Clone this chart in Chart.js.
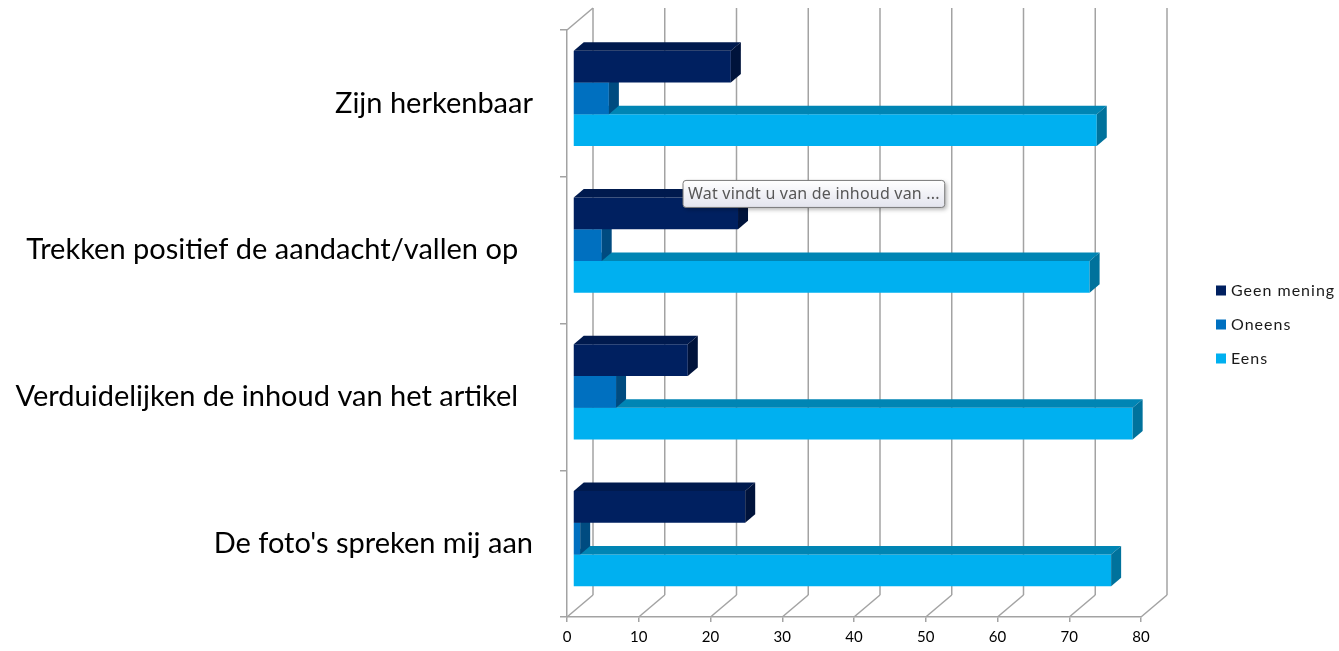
<!DOCTYPE html>
<html>
<head>
<meta charset="utf-8">
<script src="https://cdn.jsdelivr.net/npm/chart.js@4/dist/chart.umd.min.js"></script>
<style>
  html, body { margin: 0; padding: 0; background: #ffffff; }
  #wrap { width: 1339px; height: 651px; }
</style>
</head>
<body>
<div id="wrap"><canvas id="chart"></canvas></div>
<script>
// DATA

const categories = [
  'Zijn herkenbaar',
  'Trekken positief de aandacht/vallen op  ',
  'Verduidelijken de inhoud van het artikel  ',
  "De foto's spreken mij aan"
];
const seriesNames = ['Geen mening', 'Oneens', 'Eens'];
const geenMening = [22, 23, 16, 24];
const oneens = [5, 4, 6, 1];
const eens = [73, 72, 78, 75];
const xMin = 0, xMax = 80, xStep = 10;
const tooltipText = 'Wat vindt u van de inhoud van ...';

// STYLE

const frontColors = ['#002060', '#0070c0', '#00b0f0'];
const topColors = ['#001a4e', '#005a9c', '#0085b4'];
const sideColors = ['#00133b', '#004b80', '#00729c'];
const GRID = '#a3a3a3';
const LABEL_FONT = 'Lato';

// 3D offsets in pixels (x right, y down)
const BAR_SHIFT = [6, -5];
const BAR_DEPTH = [10, -8.5];
const WALL_DEPTH = [26, -22];

//==================================
// 3D PLUGIN
//==================================

function line(ctx, x1, y1, x2, y2) {
  ctx.beginPath();
  ctx.moveTo(x1, y1);
  ctx.lineTo(x2, y2);
  ctx.stroke();
}

function poly(ctx, pts, color) {
  ctx.beginPath();
  ctx.moveTo(pts[0][0], pts[0][1]);
  for (let i = 1; i < pts.length; i++) ctx.lineTo(pts[i][0], pts[i][1]);
  ctx.closePath();
  ctx.fillStyle = color;
  ctx.fill();
}

const threeD = {
  id: 'threeD',
  beforeDatasetsDraw(chart) {
    const ctx = chart.ctx;
    const area = chart.chartArea;
    const xs = chart.scales.x;
    const [dx, dy] = WALL_DEPTH;
    ctx.save();
    ctx.strokeStyle = GRID;
    ctx.lineWidth = 1.5;
    // back wall verticals and floor diagonals
    xs.ticks.forEach(t => {
      const px = xs.getPixelForValue(t.value);
      line(ctx, px + dx, area.top + dy, px + dx, area.bottom + dy);
      line(ctx, px, area.bottom, px + dx, area.bottom + dy);
    });
    // top of the side wall
    line(ctx, area.left, area.top, area.left + dx, area.top + dy);
    ctx.restore();

    ctx.save();
    ctx.translate(BAR_SHIFT[0], BAR_SHIFT[1]);
  },
  afterDatasetDraw(chart, args) {
    const ctx = chart.ctx;
    const i = args.index;
    const [dx, dy] = BAR_DEPTH;
    args.meta.data.forEach(el => {
      const p = el.getProps(['x', 'y', 'base', 'height'], true);
      const top = p.y - p.height / 2;
      const bot = p.y + p.height / 2;
      poly(ctx, [[p.base, top], [p.x, top], [p.x + dx, top + dy], [p.base + dx, top + dy]], topColors[i]);
      poly(ctx, [[p.x, top], [p.x + dx, top + dy], [p.x + dx, bot + dy], [p.x, bot]], sideColors[i]);
    });
  },
  afterDatasetsDraw(chart) {
    chart.ctx.restore();
  },
  afterDraw(chart) {
    const ctx = chart.ctx;
    const area = chart.chartArea;

    // legend
    ctx.save();
    ctx.font = '16px ' + LABEL_FONT;
    ctx.textBaseline = 'middle';
    ctx.textAlign = 'left';
    ctx.letterSpacing = '1px';
    const cy = chart.height / 2;
    seriesNames.forEach((name, i) => {
      const y = cy + (i - 1) * 34 - 1;
      ctx.fillStyle = frontColors[i];
      ctx.fillRect(area.right + 75, y - 5, 10, 10);
      ctx.fillStyle = '#1a1a1a';
      ctx.fillText(name, area.right + 90, y);
    });
    ctx.restore();

    // hover box left on the picture
    const el = chart.getDatasetMeta(0).data[1];
    const p = el.getProps(['x', 'y', 'height'], true);
    ctx.save();
    ctx.font = '16px "Noto Sans"';
    ctx.letterSpacing = '0.2px';
    const w = ctx.measureText(tooltipText).width + 10;
    const h = 27;
    const bx = p.x - 49;
    const by = p.y - p.height / 2 - 22;
    ctx.shadowColor = 'rgba(0,0,0,0.3)';
    ctx.shadowBlur = 4;
    ctx.shadowOffsetX = 2;
    ctx.shadowOffsetY = 2;
    const g = ctx.createLinearGradient(0, by, 0, by + h);
    g.addColorStop(0, '#ffffff');
    g.addColorStop(1, '#e3e4ee');
    ctx.fillStyle = g;
    ctx.beginPath();
    ctx.roundRect(bx, by, w, h, 3);
    ctx.fill();
    ctx.shadowColor = 'transparent';
    ctx.strokeStyle = '#7a7a7a';
    ctx.lineWidth = 1;
    ctx.stroke();
    ctx.fillStyle = '#575757';
    ctx.textBaseline = 'middle';
    ctx.fillText(tooltipText, bx + 5, by + h / 2 + 1);
    ctx.restore();
  }
};

//==================================
// CHART
//==================================

const datasets = [geenMening, oneens, eens].map((values, i) => ({
  label: seriesNames[i],
  data: values,
  backgroundColor: frontColors[i],
  borderWidth: 0,
  barPercentage: 1,
  categoryPercentage: 0.65,
  clip: false
}));

new Chart(document.getElementById('chart').getContext('2d'), {
  type: 'bar',
  data: { labels: categories, datasets: datasets },
  options: {
    indexAxis: 'y',
    responsive: true,
    maintainAspectRatio: false,
    animation: false,
    layout: { padding: { top: 30, right: 198, left: 0, bottom: 0 } },
    plugins: {
      legend: { display: false },
      tooltip: { enabled: false }
    },
    scales: {
      x: {
        min: xMin,
        max: xMax,
        ticks: {
          stepSize: xStep,
          color: '#000000',
          font: { family: LABEL_FONT, size: 15 },
          padding: 6
        },
        grid: { drawOnChartArea: false, color: GRID, lineWidth: 1.5, tickLength: 5 },
        border: { display: true, color: GRID, width: 1.5 },
        afterFit(scale) {
          scale.height = 34;
          scale.paddingLeft = 0;
          scale.paddingRight = 0;
        }
      },
      y: {
        ticks: {
          color: '#000000',
          font: { family: LABEL_FONT, size: 29 },
          padding: 27
        },
        grid: { drawOnChartArea: false, color: GRID, lineWidth: 1.5, tickLength: 7, offset: true },
        border: { display: true, color: GRID, width: 1.5 },
        afterFit(scale) {
          scale.width = 567;
          scale.paddingTop = 0;
          scale.paddingBottom = 0;
        }
      }
    }
  },
  plugins: [threeD]
});
</script>
</body>
</html>
